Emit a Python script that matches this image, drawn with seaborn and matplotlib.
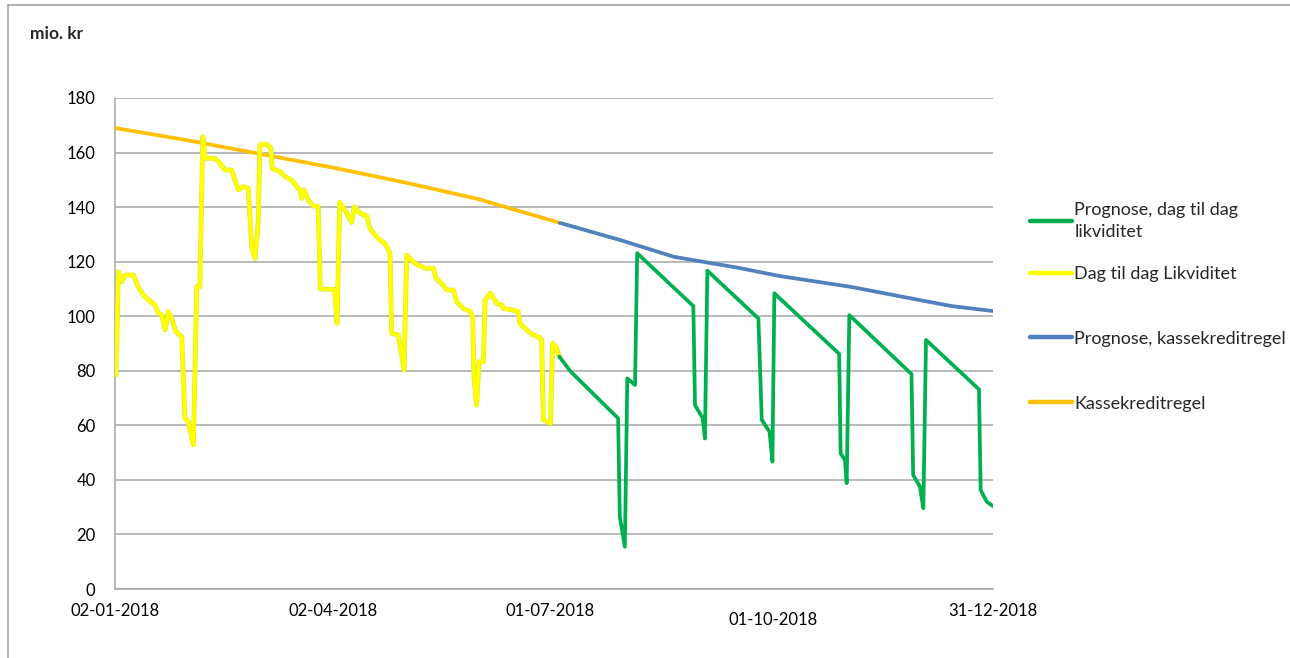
import pandas as pd
import matplotlib.pyplot as plt
import matplotlib.transforms as mtransforms
import matplotlib.patheffects as pe
import seaborn as sns

# days counted from 02-01-2018, values in mio. kr
kassekredit_day = [0, 30, 60, 90, 120, 150, 184]
kassekredit_val = [169.0, 164.5, 159.5, 154.5, 149.0, 143.0, 134.2]

prognose_kk_day = [184, 209, 231, 258, 275, 304, 334, 346, 363]
prognose_kk_val = [134.2, 127.9, 121.8, 117.7, 114.7, 110.8, 105.7, 103.7, 101.9]

likviditet_day = [
    0.4, 1.4, 2.8, 4.1, 7.6, 9.6, 11.7, 13.8, 16.5, 17.9, 19.3, 20.7, 22.0, 23.4,
    25.2, 27.6, 28.9, 30.3, 32.4, 33.8, 35.1, 36.3, 37.2, 41.3, 43.4, 45.5, 48.2,
    49.6, 51.0, 53.0, 55.1, 56.5, 57.9, 59.2, 59.9, 62.7, 64.4, 65.0, 68.2, 70.3,
    73.0, 75.1, 76.5, 77.2, 78.1, 79.9, 82.0, 84.0, 84.9, 90.7, 91.8, 92.9, 95.5,
    97.8, 99.0, 101.3, 104.1, 105.4, 107.5, 109.5, 111.6, 113.7, 114.4, 117.1,
    119.5, 120.6, 124.0, 128.2, 131.6, 132.7, 135.7, 137.1, 139.9, 141.3, 144.0,
    146.8, 147.9, 148.4, 149.5, 150.5, 152.3, 153.0, 155.3, 157.8, 159.9, 160.5,
    164.0, 166.7, 167.4, 170.2, 172.9, 175.0, 176.4, 177.1, 180.1, 180.9, 182.3,
    183.7,
]
likviditet_val = [
    78.4, 116.3, 112.7, 115.1, 115.1, 110.8, 107.8, 106.0, 104.1, 101.1, 100.5,
    95.0, 101.7, 99.2, 94.3, 92.5, 62.6, 61.3, 52.8, 110.8, 110.8, 165.8, 157.9,
    157.9, 156.1, 153.6, 153.6, 150.0, 146.3, 147.5, 146.9, 125.5, 121.2, 134.1,
    162.8, 163.1, 161.6, 154.2, 153.0, 151.2, 150.0, 147.5, 146.3, 143.2, 146.3,
    142.6, 140.4, 140.2, 110.0, 109.8, 97.4, 141.7, 138.3, 134.4, 140.2, 137.7,
    136.7, 132.2, 129.8, 127.9, 126.7, 123.1, 93.7, 93.1, 80.3, 122.4, 119.4,
    117.6, 117.6, 113.9, 111.4, 109.6, 109.6, 105.3, 102.9, 101.7, 99.8, 77.8,
    67.4, 83.3, 83.3, 106.0, 108.4, 104.7, 104.1, 102.9, 102.3, 101.7, 97.4,
    95.0, 93.1, 92.5, 91.3, 62.0, 60.7, 90.1, 88.8, 85.2,
]

prognose_likv_day = [
    183.7, 188.4, 208.0, 208.7, 210.8, 211.8, 215.0, 215.9, 239.1, 239.8, 243.0,
    243.9, 244.9, 266.0, 267.4, 270.6, 271.8, 272.6, 299.4, 300.0, 301.8, 302.5,
    303.6, 329.3, 330.0, 332.8, 334.2, 335.3, 357.2, 357.9, 360.4, 363.0,
]
prognose_likv_val = [
    85.2, 79.7, 62.6, 26.5, 15.5, 77.2, 74.8, 123.1, 103.7, 67.4, 62.6, 55.2,
    116.7, 99.2, 62.0, 57.7, 46.7, 108.4, 86.2, 49.7, 47.3, 38.8, 100.4, 78.8,
    41.8, 37.5, 29.6, 91.3, 73.2, 36.3, 32.0, 30.4,
]

tick_dates = ["2018-01-02", "2018-04-02", "2018-07-01", "2018-10-01", "2018-12-31"]
y_ticks = list(range(0, 181, 20))

START = pd.Timestamp("2018-01-02")


def to_frame(days, vals):
    return pd.DataFrame({
        "dato": START + pd.to_timedelta(days, unit="D"),
        "mio": vals,
    })


sns.set_style("white")
plt.rcParams["font.family"] = ["Lato", "DejaVu Sans"]

W, H = 1290, 658
fig = plt.figure(figsize=(W / 100, H / 100), dpi=100)
ax = fig.add_axes([115 / W, 1 - 589 / H, (993 - 115) / W, (589 - 98) / H])

lw = 2.7
sns.lineplot(data=to_frame(kassekredit_day, kassekredit_val), x="dato", y="mio",
             color="#FFC000", linewidth=lw, ax=ax, estimator=None, zorder=3)
sns.lineplot(data=to_frame(prognose_kk_day, prognose_kk_val), x="dato", y="mio",
             color="#4F81BD", linewidth=lw, ax=ax, estimator=None, zorder=3)
sns.lineplot(data=to_frame(likviditet_day, likviditet_val), x="dato", y="mio",
             color="#FFFF00", linewidth=lw, ax=ax, estimator=None, zorder=4)
sns.lineplot(data=to_frame(prognose_likv_day, prognose_likv_val), x="dato", y="mio",
             color="#00B050", linewidth=lw, ax=ax, estimator=None, zorder=4)

lines = ax.get_lines()
h_orange, h_blue, h_yellow, h_green = lines[0], lines[1], lines[2], lines[3]
# thin greenish rim around the yellow line, as in the original
h_yellow.set_path_effects([pe.Stroke(linewidth=lw + 0.8, foreground="#D8E830"),
                           pe.Normal()])

ax.set_xlim(START, pd.Timestamp("2018-12-31"))
ax.set_ylim(0, 180)
ax.set_yticks(y_ticks)
ax.set_xticks(pd.to_datetime(tick_dates))
ax.set_xticklabels([pd.Timestamp(d).strftime("%d-%m-%Y") for d in tick_dates])
ax.set_xlabel("")
ax.set_ylabel("")
ax.grid(axis="y", color="#A6A6A6", linewidth=1.1)
ax.grid(axis="x", visible=False)
ax.tick_params(axis="both", length=0, labelsize=12, colors="black")
ax.tick_params(axis="y", pad=14)
ax.tick_params(axis="x", pad=10)
for side in ["top", "right"]:
    ax.spines[side].set_visible(False)
for side in ["left", "bottom"]:
    ax.spines[side].set_color("#A6A6A6")
    ax.spines[side].set_linewidth(1.1)

# 01-10-2018 sits a little lower in the original
lbl = ax.get_xticklabels()[3]
lbl.set_transform(lbl.get_transform() +
                  mtransforms.ScaledTranslation(0, -9 / 100, fig.dpi_scale_trans))

fig.text(30 / W, 1 - 34 / H, "mio. kr", fontsize=12.5, fontweight="bold",
         va="center", ha="left")

# chart border (only left and top visible)
fig.add_artist(plt.Line2D([8 / W, 8 / W], [0, 1 - 5 / H], color="#A6A6A6",
                          linewidth=1.2, transform=fig.transFigure))
fig.add_artist(plt.Line2D([8 / W, 1], [1 - 5 / H, 1 - 5 / H], color="#A6A6A6",
                          linewidth=1.2, transform=fig.transFigure))

leg_kw = dict(frameon=False, fontsize=13, handlelength=2.3, handletextpad=0.15,
              borderpad=0, borderaxespad=0, loc="upper left")
leg1 = ax.legend([h_green], ["Prognose, dag til dag\nlikviditet"],
                 bbox_to_anchor=(1030 / W, 1 - 202 / H),
                 bbox_transform=fig.transFigure, **leg_kw)
for t in leg1.get_texts():
    t.set_linespacing(1.45)
for ln in leg1.get_lines():
    ln.set_linewidth(3.2)
ax.add_artist(leg1)
leg2 = ax.legend([h_yellow, h_blue, h_orange],
                 ["Dag til dag Likviditet", "Prognose, kassekreditregel", "Kassekreditregel"],
                 bbox_to_anchor=(1030 / W, 1 - 266 / H),
                 bbox_transform=fig.transFigure, labelspacing=2.7, **leg_kw)
for ln in leg2.get_lines():
    ln.set_linewidth(3.2)
    ln.set_path_effects([])

fig.savefig("out.png", dpi=100)
